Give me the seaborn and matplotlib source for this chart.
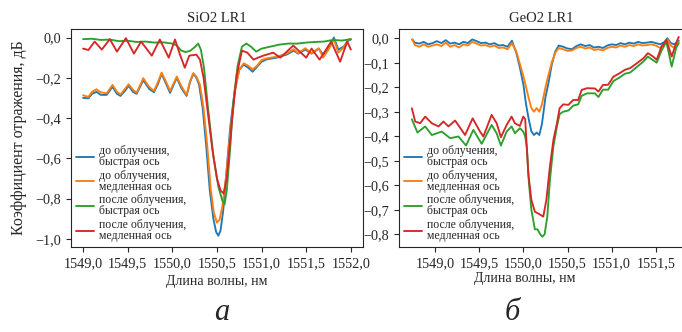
import matplotlib
matplotlib.use("Agg")
import matplotlib.pyplot as plt
import seaborn as sns
from matplotlib.ticker import FuncFormatter, MultipleLocator

# ---- SiO2 LR1 (panel a) ----
sio2_fast_before_wl = [1549.00, 1549.06, 1549.10, 1549.15, 1549.20, 1549.265, 1549.33, 1549.38, 1549.42, 1549.47,
                       1549.51, 1549.56, 1549.60, 1549.675, 1549.74, 1549.795, 1549.84, 1549.88, 1549.93, 1549.975,
                       1550.05, 1550.10, 1550.16, 1550.20, 1550.235, 1550.27, 1550.30, 1550.34, 1550.38, 1550.42,
                       1550.46, 1550.49, 1550.515, 1550.54, 1550.57, 1550.61, 1550.65, 1550.70, 1550.75, 1550.80,
                       1550.85, 1550.90, 1550.95, 1551.00, 1551.06, 1551.17, 1551.28, 1551.36, 1551.41, 1551.49,
                       1551.56, 1551.64, 1551.69, 1551.75, 1551.81, 1551.86, 1551.92, 1551.97, 1552.00]
sio2_fast_before_db = [-0.300, -0.302, -0.280, -0.270, -0.285, -0.285, -0.245, -0.280, -0.290, -0.265,
                       -0.240, -0.270, -0.280, -0.212, -0.255, -0.272, -0.230, -0.180, -0.230, -0.275,
                       -0.200, -0.250, -0.290, -0.220, -0.180, -0.200, -0.235, -0.350, -0.540, -0.760,
                       -0.900, -0.965, -0.985, -0.960, -0.860, -0.650, -0.440, -0.260, -0.160, -0.135,
                       -0.150, -0.170, -0.145, -0.120, -0.108, -0.100, -0.085, -0.065, -0.080, -0.060,
                       -0.080, -0.055, -0.085, -0.050, 0.000, -0.060, -0.045, -0.015, -0.010]

sio2_slow_before_wl = [1549.00, 1549.06, 1549.10, 1549.15, 1549.20, 1549.265, 1549.33, 1549.38, 1549.42, 1549.47,
                       1549.51, 1549.56, 1549.60, 1549.675, 1549.74, 1549.795, 1549.84, 1549.88, 1549.93, 1549.975,
                       1550.05, 1550.10, 1550.16, 1550.20, 1550.235, 1550.27, 1550.31, 1550.35, 1550.39, 1550.43,
                       1550.465, 1550.50, 1550.53, 1550.56, 1550.60, 1550.65, 1550.70, 1550.75, 1550.80, 1550.85,
                       1550.90, 1550.95, 1551.00, 1551.06, 1551.17, 1551.28, 1551.36, 1551.41, 1551.49, 1551.56,
                       1551.64, 1551.69, 1551.75, 1551.81, 1551.86, 1551.92, 1551.97, 1552.00]
sio2_slow_before_db = [-0.287, -0.295, -0.270, -0.257, -0.272, -0.278, -0.235, -0.270, -0.283, -0.255,
                       -0.232, -0.260, -0.275, -0.202, -0.245, -0.265, -0.220, -0.174, -0.220, -0.265,
                       -0.194, -0.240, -0.285, -0.215, -0.177, -0.195, -0.235, -0.350, -0.530, -0.750,
                       -0.870, -0.920, -0.905, -0.840, -0.700, -0.470, -0.270, -0.160, -0.128, -0.140,
                       -0.158, -0.140, -0.112, -0.103, -0.095, -0.080, -0.058, -0.078, -0.053, -0.078,
                       -0.053, -0.100, -0.060, -0.010, -0.075, -0.050, -0.010, -0.008]

sio2_fast_after_wl = [1549.00, 1549.10, 1549.20, 1549.30, 1549.40, 1549.50, 1549.60, 1549.70, 1549.80, 1549.90,
                      1550.00, 1550.05, 1550.10, 1550.15, 1550.20, 1550.25, 1550.29, 1550.32, 1550.355, 1550.40,
                      1550.46, 1550.515, 1550.56, 1550.585, 1550.61, 1550.65, 1550.68, 1550.73, 1550.78, 1550.83,
                      1550.88, 1550.94, 1551.00, 1551.10, 1551.20, 1551.30, 1551.40, 1551.50, 1551.60, 1551.70,
                      1551.80, 1551.90, 1552.00]
sio2_fast_after_db = [-0.008, -0.006, -0.012, -0.010, -0.018, -0.016, -0.022, -0.020, -0.025, -0.024,
                      -0.030, -0.040, -0.065, -0.072, -0.066, -0.048, -0.030, -0.060, -0.150, -0.350,
                      -0.590, -0.740, -0.810, -0.830, -0.760, -0.540, -0.340, -0.145, -0.045, -0.030,
                      -0.045, -0.070, -0.055, -0.045, -0.035, -0.030, -0.030, -0.025, -0.022, -0.020,
                      -0.012, -0.015, -0.008]

sio2_slow_after_wl = [1549.00, 1549.06, 1549.13, 1549.21, 1549.30, 1549.38, 1549.48, 1549.57, 1549.65, 1549.77,
                      1549.86, 1549.96, 1550.03, 1550.09, 1550.14, 1550.19, 1550.27, 1550.31, 1550.35, 1550.40,
                      1550.45, 1550.50, 1550.54, 1550.575, 1550.61, 1550.665, 1550.72, 1550.78, 1550.84, 1550.91,
                      1550.96, 1551.02, 1551.13, 1551.21, 1551.355, 1551.50, 1551.56, 1551.65, 1551.78, 1551.88,
                      1551.96, 1552.00]
sio2_slow_after_db = [-0.055, -0.062, -0.020, -0.060, -0.008, -0.070, -0.003, -0.080, -0.020, -0.090,
                      -0.010, -0.100, -0.010, -0.090, -0.150, -0.090, -0.085, -0.110, -0.200, -0.380,
                      -0.560, -0.700, -0.760, -0.775, -0.700, -0.430, -0.190, -0.065, -0.075, -0.110,
                      -0.100, -0.090, -0.075, -0.100, -0.040, -0.100, -0.055, -0.110, -0.020, -0.120,
                      -0.020, -0.060]

# ---- GeO2 LR1 (panel b) ----
geo2_before_wl = [1548.74, 1548.77, 1548.82, 1548.87, 1548.92, 1548.97, 1549.02, 1549.07, 1549.12, 1549.17,
                  1549.22, 1549.27, 1549.32, 1549.37, 1549.42, 1549.47, 1549.52, 1549.57, 1549.62, 1549.67,
                  1549.72, 1549.77, 1549.82, 1549.87, 1549.92, 1549.96, 1550.00, 1550.03, 1550.06, 1550.09,
                  1550.12, 1550.15, 1550.18, 1550.21, 1550.25, 1550.28, 1550.32, 1550.36, 1550.40, 1550.45,
                  1550.50, 1550.55, 1550.60, 1550.65, 1550.70, 1550.75, 1550.80, 1550.85, 1550.90, 1550.95,
                  1551.00, 1551.05, 1551.10, 1551.15, 1551.20, 1551.25, 1551.30, 1551.35, 1551.40, 1551.45,
                  1551.50, 1551.55, 1551.60, 1551.63, 1551.67, 1551.71, 1551.76]
geo2_fast_before_db = [-0.005, -0.018, -0.022, -0.015, -0.025, -0.020, -0.012, -0.020, -0.008, -0.022,
                       -0.018, -0.025, -0.015, -0.020, -0.005, -0.012, -0.020, -0.018, -0.025, -0.020,
                       -0.030, -0.028, -0.035, -0.010, -0.060, -0.120, -0.190, -0.270, -0.330, -0.380,
                       -0.395, -0.385, -0.395, -0.350, -0.240, -0.190, -0.110, -0.055, -0.030, -0.035,
                       -0.042, -0.045, -0.032, -0.025, -0.032, -0.028, -0.038, -0.035, -0.040, -0.030,
                       -0.025, -0.028, -0.020, -0.025, -0.018, -0.022, -0.015, -0.020, -0.018, -0.015,
                       -0.020, -0.025, -0.015, 0.000, -0.020, -0.025, -0.010]
geo2_slow_before_db = [-0.005, -0.028, -0.035, -0.025, -0.035, -0.030, -0.025, -0.032, -0.018, -0.035,
                       -0.028, -0.038, -0.025, -0.030, -0.015, -0.022, -0.030, -0.028, -0.035, -0.030,
                       -0.040, -0.038, -0.045, -0.020, -0.055, -0.105, -0.155, -0.200, -0.245, -0.285,
                       -0.300, -0.285, -0.300, -0.270, -0.200, -0.155, -0.100, -0.060, -0.040, -0.045,
                       -0.052, -0.050, -0.040, -0.035, -0.042, -0.038, -0.048, -0.045, -0.050, -0.040,
                       -0.035, -0.038, -0.030, -0.035, -0.028, -0.032, -0.025, -0.030, -0.028, -0.025,
                       -0.030, -0.040, -0.025, -0.005, -0.030, -0.040, -0.015]

geo2_fast_after_wl = [1548.736, 1548.80, 1548.887, 1548.962, 1549.019, 1549.075, 1549.17, 1549.264, 1549.35, 1549.433,
                      1549.527, 1549.64, 1549.697, 1549.745, 1549.81, 1549.866, 1549.904, 1549.96, 1549.998, 1550.02,
                      1550.04, 1550.06, 1550.09, 1550.13, 1550.16, 1550.19, 1550.215, 1550.24, 1550.27, 1550.30,
                      1550.34, 1550.38, 1550.41, 1550.45, 1550.51, 1550.565, 1550.62, 1550.66, 1550.72, 1550.81,
                      1550.85, 1550.90, 1550.96, 1551.02, 1551.09, 1551.15, 1551.21, 1551.26, 1551.36, 1551.41,
                      1551.47, 1551.51, 1551.565, 1551.62, 1551.68, 1551.73, 1551.76]
geo2_fast_after_db = [-0.331, -0.385, -0.360, -0.395, -0.388, -0.381, -0.408, -0.401, -0.438, -0.374,
                      -0.431, -0.354, -0.388, -0.438, -0.381, -0.360, -0.388, -0.367, -0.381, -0.400,
                      -0.450, -0.580, -0.700, -0.780, -0.780, -0.800, -0.810, -0.800, -0.730, -0.580,
                      -0.440, -0.360, -0.310, -0.300, -0.295, -0.275, -0.270, -0.235, -0.225, -0.225,
                      -0.240, -0.210, -0.210, -0.175, -0.160, -0.145, -0.140, -0.125, -0.095, -0.075,
                      -0.090, -0.100, -0.050, -0.015, -0.116, -0.040, -0.020]

geo2_slow_after_wl = [1548.736, 1548.774, 1548.83, 1548.887, 1548.962, 1549.038, 1549.094, 1549.15, 1549.226, 1549.339,
                      1549.425, 1549.508, 1549.546, 1549.64, 1549.697, 1549.745, 1549.81, 1549.866, 1549.904, 1549.96,
                      1549.998, 1550.02, 1550.04, 1550.055, 1550.09, 1550.13, 1550.19, 1550.225, 1550.26, 1550.30,
                      1550.34, 1550.38, 1550.41, 1550.45, 1550.51, 1550.565, 1550.62, 1550.66, 1550.72, 1550.81,
                      1550.85, 1550.90, 1550.96, 1551.02, 1551.09, 1551.15, 1551.21, 1551.26, 1551.36, 1551.41,
                      1551.47, 1551.51, 1551.565, 1551.62, 1551.68, 1551.73, 1551.76]
geo2_slow_after_db = [-0.286, -0.340, -0.347, -0.320, -0.347, -0.360, -0.340, -0.360, -0.336, -0.395,
                      -0.327, -0.381, -0.401, -0.313, -0.347, -0.404, -0.354, -0.320, -0.347, -0.358,
                      -0.320, -0.330, -0.456, -0.550, -0.660, -0.708, -0.720, -0.728, -0.660, -0.524,
                      -0.415, -0.347, -0.286, -0.270, -0.272, -0.252, -0.252, -0.211, -0.204, -0.205,
                      -0.218, -0.191, -0.190, -0.157, -0.143, -0.129, -0.122, -0.109, -0.082, -0.061,
                      -0.075, -0.088, -0.034, -0.007, -0.075, -0.020, 0.005]

labels = ["до облучения,\nбыстрая ось", "до облучения,\nмедленная ось",
          "после облучения,\nбыстрая ось", "после облучения,\nмедленная ось"]
colors = ["#1f77b4", "#ff7f0e", "#2ca02c", "#d62728"]

sns.set_style("ticks")
plt.rcParams["font.family"] = ["Liberation Serif", "DejaVu Serif"]
plt.rcParams["axes.unicode_minus"] = True


def comma_fmt(v, pos):
    s = f"{v:.1f}"
    if s in ("-0.0", "0.0"):
        s = "0.0"
    return s.replace(".", ",").replace("-", "\u2212")


fig = plt.figure(figsize=(6.82, 3.32), dpi=100)
ax1 = fig.add_axes([0.1041, 0.256, 0.428, 0.657])
ax2 = fig.add_axes([0.585, 0.256, 0.418, 0.657])

panels = [
    (ax1, "SiO2 LR1", [(sio2_fast_before_wl, sio2_fast_before_db), (sio2_slow_before_wl, sio2_slow_before_db),
                       (sio2_fast_after_wl, sio2_fast_after_db), (sio2_slow_after_wl, sio2_slow_after_db)]),
    (ax2, "GeO2 LR1", [(geo2_before_wl, geo2_fast_before_db), (geo2_before_wl, geo2_slow_before_db),
                       (geo2_fast_after_wl, geo2_fast_after_db), (geo2_slow_after_wl, geo2_slow_after_db)]),
]

for ax, title, curves in panels:
    for (wl, db), c, lab in zip(curves, colors, labels):
        sns.lineplot(x=wl, y=db, ax=ax, color=c, linewidth=1.35, label=lab, sort=False)
    ax.set_title(title, fontsize=10.5, pad=5)
    ax.set_xlabel("Длина волны, нм", fontsize=10)
    ax.xaxis.set_major_locator(MultipleLocator(0.5))
    ax.xaxis.set_major_formatter(FuncFormatter(comma_fmt))
    ax.yaxis.set_major_formatter(FuncFormatter(comma_fmt))
    ax.tick_params(labelsize=10.3, length=3.5, width=0.8)
    for sp in ax.spines.values():
        sp.set_linewidth(0.8)
    leg = ax.legend(loc="lower left", frameon=False, fontsize=8.5, handlelength=1.5,
                    handletextpad=0.4, labelspacing=0.12, borderaxespad=0.25, borderpad=0.2)
    for t in leg.get_texts():
        t.set_linespacing(0.9)

ax1.set_xlim(1548.865, 1552.135)
ax1.set_ylim(-1.041, 0.043)
ax1.yaxis.set_major_locator(MultipleLocator(0.2))
ax1.set_ylabel("Коэффициент отражения, дБ", fontsize=11.5, labelpad=6)

ax2.set_xlim(1548.59, 1551.82)
ax2.set_ylim(-0.852, 0.038)
ax2.yaxis.set_major_locator(MultipleLocator(0.1))
ax2.set_ylabel("")
ax2.xaxis.set_label_coords(0.44, -0.115)

fig.text(222 / 682, 1 - 312 / 332, "а", fontsize=22, style="italic", ha="center", va="center")
fig.text(512 / 682, 1 - 312 / 332, "б", fontsize=22, style="italic", ha="center", va="center")

fig.savefig("out.png", dpi=100)
